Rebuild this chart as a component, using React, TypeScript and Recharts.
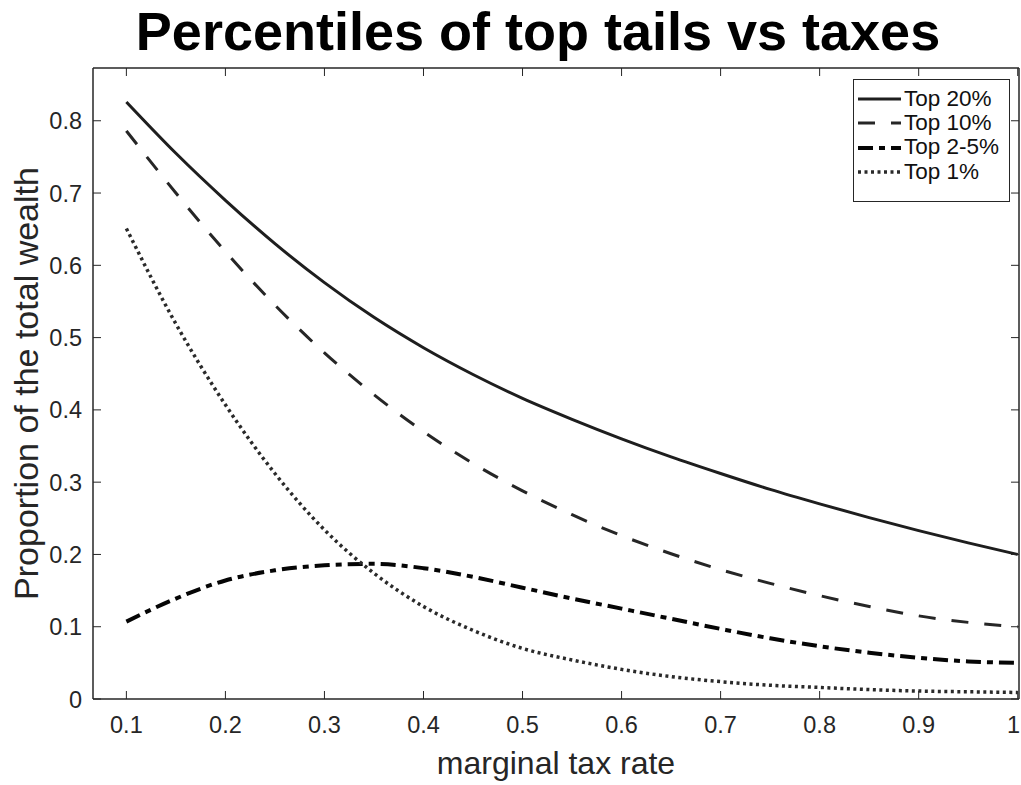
import { Line, LineChart, XAxis, YAxis, Label, ReferenceLine } from 'recharts';

const taxRates = [
  0.1, 0.15, 0.2, 0.25, 0.3, 0.35, 0.4, 0.45, 0.5, 0.55, 0.6, 0.65, 0.7, 0.75, 0.8, 0.85, 0.9, 0.95, 1.0,
];
const top20 = [
  0.826, 0.755, 0.69, 0.63, 0.576, 0.528, 0.486, 0.449, 0.416, 0.387, 0.36, 0.335, 0.312, 0.29, 0.27,
  0.251, 0.233, 0.216, 0.2,
];
const top10 = [
  0.786, 0.7, 0.619, 0.545, 0.479, 0.421, 0.37, 0.326, 0.288, 0.255, 0.226, 0.201, 0.179, 0.16, 0.143,
  0.128, 0.115, 0.106, 0.1,
];
const top2to5 = [
  0.107, 0.139, 0.164, 0.178, 0.185, 0.187, 0.181, 0.169, 0.154, 0.139, 0.125, 0.111, 0.097, 0.084, 0.073,
  0.064, 0.057, 0.052, 0.05,
];
const top1 = [
  0.651, 0.519, 0.407, 0.312, 0.234, 0.174, 0.128, 0.095, 0.07, 0.054, 0.041, 0.031, 0.024, 0.019, 0.016,
  0.013, 0.011, 0.01, 0.009,
];

const xTicks = [0.1, 0.2, 0.3, 0.4, 0.5, 0.6, 0.7, 0.8, 0.9, 1];
const yTicks = [0, 0.1, 0.2, 0.3, 0.4, 0.5, 0.6, 0.7, 0.8];
const X_MIN = 0.0663;
const X_MAX = 1.0013;
const Y_MAX = 0.873;

const data = taxRates.map((t, i) => ({
  t,
  top20: top20[i],
  top10: top10[i],
  top2to5: top2to5[i],
  top1: top1[i],
}));

// plot box edges in page pixels, used by the hand-made inward ticks
const W = 1021;
const H = 785;
const PL = 93;
const PT = 68;
const PR = 1019;
const PB = 699;
const TICK = 8;

const FONT = '"Liberation Sans", Arial, Helvetica, sans-serif';
const AXIS = '#262626';

const series = [
  { key: 'top20', name: 'Top 20%', color: '#1e1e1e', width: 3, dash: undefined },
  { key: 'top10', name: 'Top 10%', color: '#262626', width: 3, dash: '17 16' },
  { key: 'top2to5', name: 'Top 2-5%', color: '#050505', width: 4, dash: '15 6 6 6' },
  { key: 'top1', name: 'Top 1%', color: '#2a2a2a', width: 3.5, dash: '3 3.5' },
];

const fmt = (v: number) => String(Number(v.toFixed(2)));

const BottomTick = (p: any) => {
  const last = p.payload.value === 1;
  return (
    <g>
      <line x1={p.x} x2={p.x} y1={PB} y2={PB - TICK} stroke={AXIS} strokeWidth={1} />
      <line x1={p.x} x2={p.x} y1={PT} y2={PT + TICK} stroke={AXIS} strokeWidth={1} />
      <text
        x={last ? W - 1 : p.x}
        y={733}
        textAnchor={last ? 'end' : 'middle'}
        fill={AXIS}
        fontSize={23.5}
        fontFamily={FONT}
      >
        {fmt(p.payload.value)}
      </text>
    </g>
  );
};

const LeftTick = (p: any) => (
  <g>
    <line x1={PL} x2={PL + TICK} y1={p.y} y2={p.y} stroke={AXIS} strokeWidth={1} />
    <line x1={PR} x2={PR - TICK} y1={p.y} y2={p.y} stroke={AXIS} strokeWidth={1} />
    <text x={82} y={p.y + 8.5} textAnchor="end" fill={AXIS} fontSize={23.5} fontFamily={FONT}>
      {fmt(p.payload.value)}
    </text>
  </g>
);

function LegendBox() {
  return (
    <div
      style={{
        position: 'absolute',
        left: 853,
        top: 79,
        width: 157,
        height: 123,
        boxSizing: 'border-box',
        border: `1px solid ${AXIS}`,
        background: '#fff',
        paddingTop: 7,
      }}
    >
      {series.map((s) => (
        <div key={s.key} style={{ display: 'flex', alignItems: 'center', height: 24.3 }}>
          <svg width={50} height={20} style={{ display: 'block' }}>
            <line
              x1={4}
              x2={47}
              y1={10}
              y2={10}
              stroke={s.color}
              strokeWidth={s.width}
              strokeDasharray={s.dash}
            />
          </svg>
          <span style={{ fontFamily: FONT, fontSize: 22.5, color: '#111', lineHeight: 1 }}>{s.name}</span>
        </div>
      ))}
    </div>
  );
}

export default function App() {
  return (
    <div style={{ position: 'absolute', left: 0, top: 0, width: W, height: H, background: '#fff' }}>
      <div
        style={{
          position: 'absolute',
          left: 0,
          width: 1076,
          top: 1,
          textAlign: 'center',
          fontFamily: FONT,
          fontWeight: 'bold',
          fontSize: 54,
          lineHeight: '60px',
          color: '#000',
          whiteSpace: 'nowrap',
        }}
      >
        Percentiles of top tails vs taxes
      </div>
      <LineChart width={W} height={H} data={data} margin={{ top: PT, right: W - PR, bottom: 0, left: 0 }}>
        <XAxis
          xAxisId="b"
          dataKey="t"
          type="number"
          domain={[X_MIN, X_MAX]}
          allowDataOverflow
          ticks={xTicks}
          interval={0}
          height={H - PB}
          tickLine={false}
          axisLine={{ stroke: AXIS, strokeWidth: 1.5 }}
          tick={<BottomTick />}
        >
          <Label
            value="marginal tax rate"
            position="insideBottom"
            offset={11}
            style={{ fontFamily: FONT, fontSize: 32, fill: AXIS }}
          />
        </XAxis>
        <YAxis
          yAxisId="l"
          type="number"
          domain={[0, Y_MAX]}
          allowDataOverflow
          ticks={yTicks}
          interval={0}
          width={PL}
          tickLine={false}
          axisLine={{ stroke: AXIS, strokeWidth: 1.5 }}
          tick={<LeftTick />}
        >
          <Label
            value="Proportion of the total wealth"
            angle={-90}
            position="insideLeft"
            offset={26}
            style={{ fontFamily: FONT, fontSize: 34, fill: AXIS, textAnchor: 'middle' }}
          />
        </YAxis>
        <ReferenceLine xAxisId="b" yAxisId="l" y={Y_MAX} stroke={AXIS} strokeWidth={1.5} />
        <ReferenceLine xAxisId="b" yAxisId="l" x={X_MAX} stroke={AXIS} strokeWidth={1.5} />
        {series.map((s) => (
          <Line
            key={s.key}
            xAxisId="b"
            yAxisId="l"
            dataKey={s.key}
            name={s.name}
            type="monotone"
            stroke={s.color}
            strokeWidth={s.width}
            strokeDasharray={s.dash}
            dot={false}
            activeDot={false}
            isAnimationActive={false}
          />
        ))}
      </LineChart>
      <LegendBox />
    </div>
  );
}
